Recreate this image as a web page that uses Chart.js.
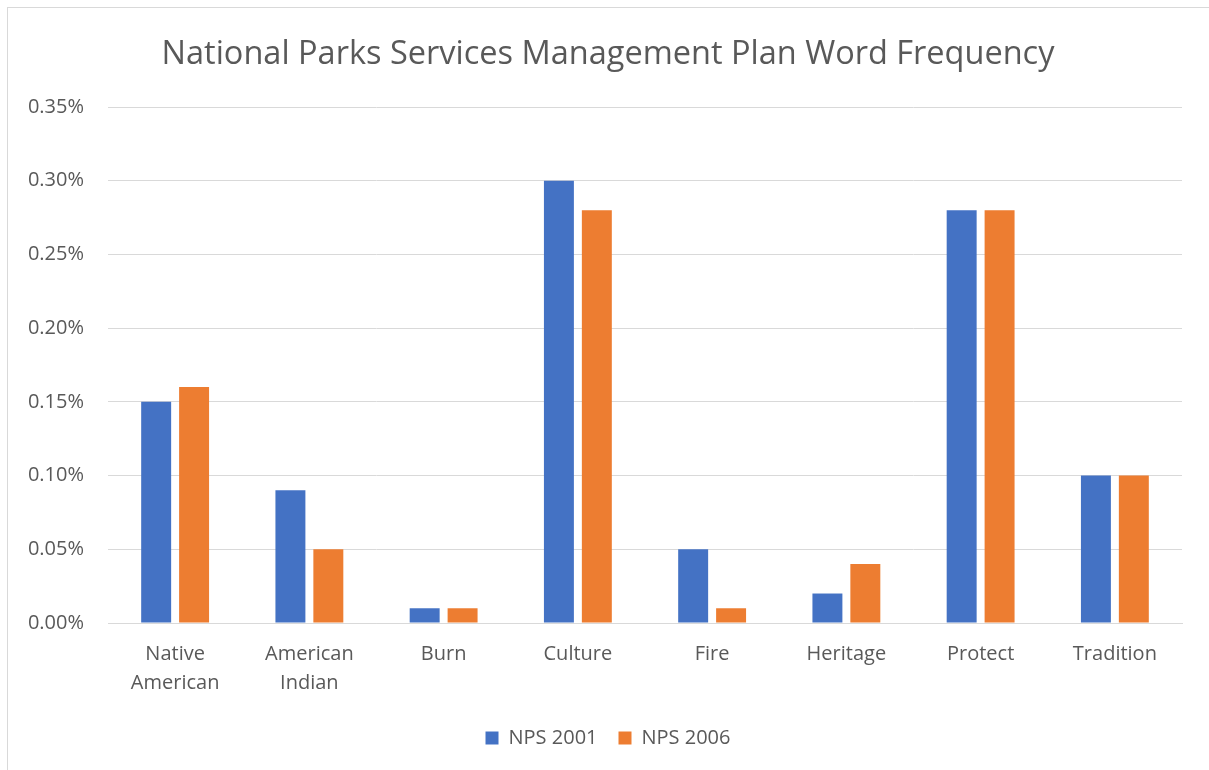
<!DOCTYPE html>
<html>
<head>
<meta charset="utf-8">
<script src="https://cdn.jsdelivr.net/npm/chart.js@4"></script>
<style>
  html, body { margin: 0; padding: 0; background: #fff; overflow: hidden; }
  #wrap {
    position: absolute; left: 7px; top: 7px;
    width: 1210px; height: 770px;
    border: 1px solid #d9d9d9;
    box-sizing: border-box;
  }
</style>
</head>
<body>
<div id="wrap"><canvas id="chart"></canvas></div>
<script>
const categories = [["Native", "American"], ["American", "Indian"], "Burn", "Culture", "Fire", "Heritage", "Protect", "Tradition"];
const nps2001 = [0.15, 0.09, 0.01, 0.30, 0.05, 0.02, 0.28, 0.10];
const nps2006 = [0.16, 0.05, 0.01, 0.28, 0.01, 0.04, 0.28, 0.10];

const textColor = "#595959";
const gridColor = "#d9d9d9";
Chart.defaults.font.family = "'Open Sans', sans-serif";
Chart.defaults.color = textColor;

// title and legend are centred on the whole frame, not on the padded area
const centreOnFrame = {
    id: "centreOnFrame",
    afterLayout(chart) {
        const shift = 13;
        for (const box of [chart.titleBlock, chart.legend]) {
            box.left += shift;
            box.right += shift;
        }
    }
};

new Chart(document.getElementById("chart"), {
    type: "bar",
    data: {
        labels: categories,
        datasets: [
            { label: "NPS 2001", data: nps2001, backgroundColor: "#4472C4" },
            { label: "NPS 2006", data: nps2006, backgroundColor: "#ED7D31" }
        ]
    },
    plugins: [centreOnFrame],
    options: {
        responsive: true,
        maintainAspectRatio: false,
        animation: false,
        categoryPercentage: 0.565,
        barPercentage: 0.79,
        layout: { padding: { left: 0, right: 34, top: 0, bottom: 18 } },
        plugins: {
            title: {
                display: true,
                text: "National Parks Services Management Plan Word Frequency",
                font: { size: 32.5, weight: "normal" },
                color: textColor,
                padding: { top: 27, bottom: 33 }
            },
            legend: {
                position: "bottom",
                labels: { boxWidth: 13, boxHeight: 13, font: { size: 20 }, color: textColor, padding: 21 }
            },
            tooltip: { enabled: false }
        },
        scales: {
            x: {
                grid: { display: false },
                border: { color: gridColor },
                ticks: { font: { size: 20, lineHeight: 1.45 }, color: textColor, padding: 9, maxRotation: 0 }
            },
            y: {
                min: 0,
                max: 0.35,
                afterFit: (s) => { s.width = 100; },
                grid: { color: gridColor, drawTicks: false },
                border: { display: false },
                ticks: {
                    stepSize: 0.05,
                    font: { size: 20 },
                    color: textColor,
                    padding: 24,
                    callback: (v) => v.toFixed(2) + "%"
                }
            }
        }
    }
});
</script>
</body>
</html>
